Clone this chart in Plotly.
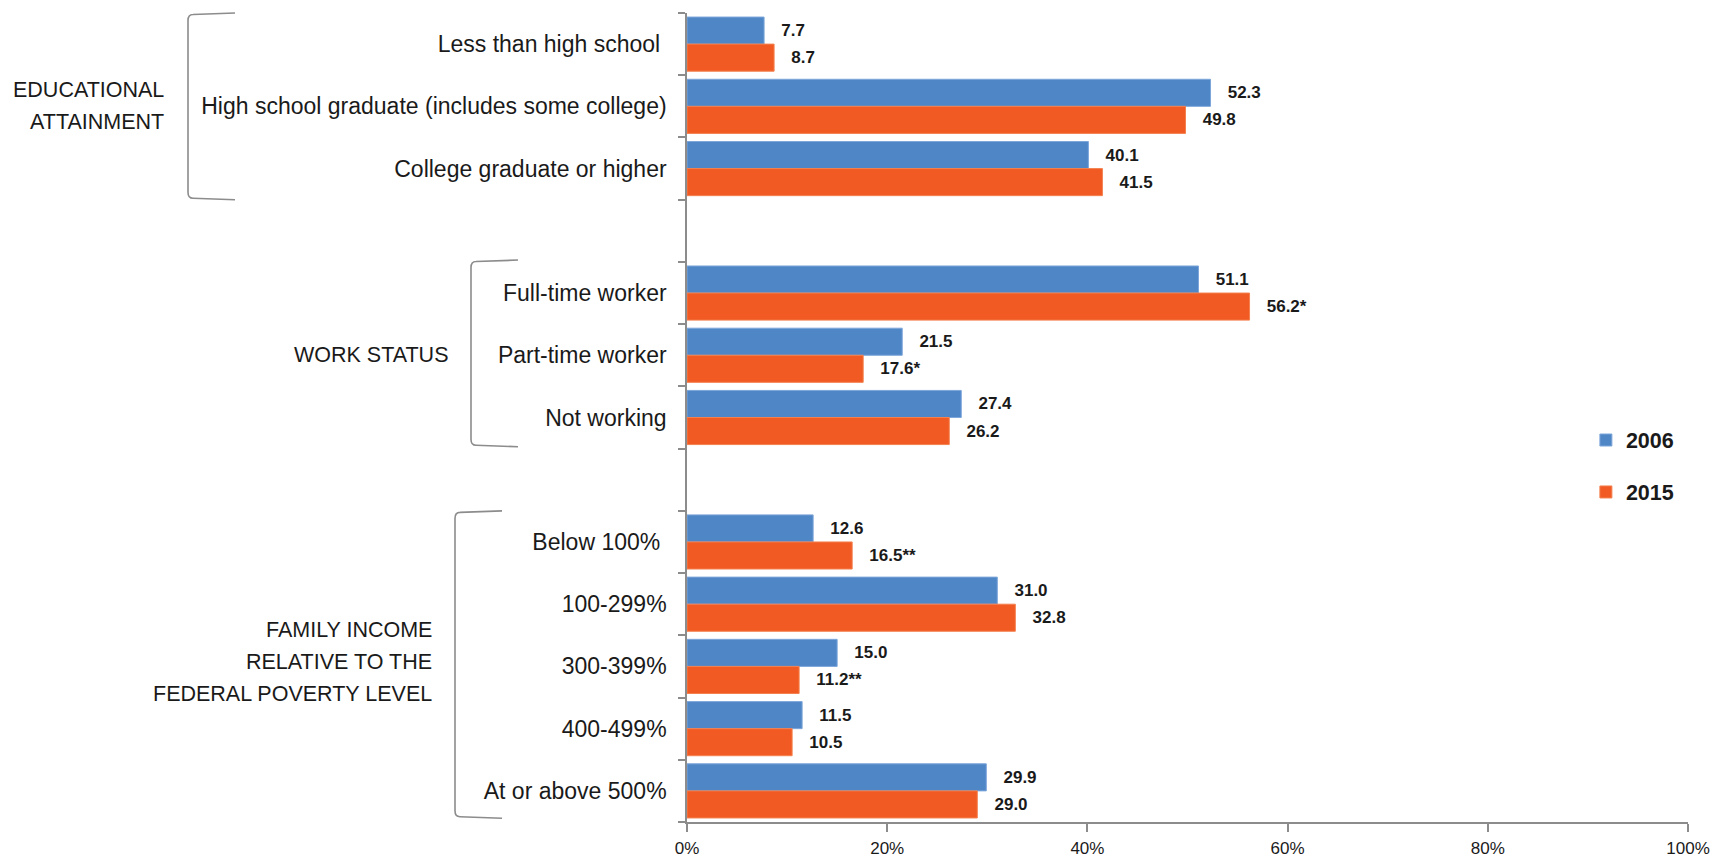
import plotly.graph_objects as go

# ---------------- data ----------------
edu_labels = ["Less than high school", "High school graduate (includes some college)", "College graduate or higher"]
edu_2006 = [7.7, 52.3, 40.1]
edu_2015 = [8.7, 49.8, 41.5]
edu_txt_2006 = ["7.7", "52.3", "40.1"]
edu_txt_2015 = ["8.7", "49.8", "41.5"]

work_labels = ["Full-time worker", "Part-time worker", "Not working"]
work_2006 = [51.1, 21.5, 27.4]
work_2015 = [56.2, 17.6, 26.2]
work_txt_2006 = ["51.1", "21.5", "27.4"]
work_txt_2015 = ["56.2*", "17.6*", "26.2"]

inc_labels = ["Below 100%", "100-299%", "300-399%", "400-499%", "At or above 500%"]
inc_2006 = [12.6, 31.0, 15.0, 11.5, 29.9]
inc_2015 = [16.5, 32.8, 11.2, 10.5, 29.0]
inc_txt_2006 = ["12.6", "31.0", "15.0", "11.5", "29.9"]
inc_txt_2015 = ["16.5**", "32.8", "11.2**", "10.5", "29.0"]

group_titles = [["EDUCATIONAL", "ATTAINMENT"], ["WORK STATUS"],
                ["FAMILY INCOME", "RELATIVE TO THE", "FEDERAL POVERTY LEVEL"]]
series_names = ["2006", "2015"]
x_ticks = [0, 20, 40, 60, 80, 100]
x_ticktext = ["0%", "20%", "40%", "60%", "80%", "100%"]

# ---------------- assemble ----------------
GAP1, GAP2 = " ", "  "
categories = edu_labels + [GAP1] + work_labels + [GAP2] + inc_labels
v2006 = edu_2006 + [None] + work_2006 + [None] + inc_2006
v2015 = edu_2015 + [None] + work_2015 + [None] + inc_2015
t2006 = edu_txt_2006 + [""] + work_txt_2006 + [""] + inc_txt_2006
t2015 = edu_txt_2015 + [""] + work_txt_2015 + [""] + inc_txt_2015
ticktext = [c + ("\u00a0" if c in ("Less than high school", "Below 100%") else "") for c in categories]

BLUE, BLUE_EDGE = "#4F86C6", "#7DA6DA"
ORANGE, ORANGE_EDGE = "#F15A22", "#F4804F"
GREY = "#8C8C8C"
TXT = "#1a1a1a"
FONT = "Liberation Sans, Arial, sans-serif"

fig = go.Figure()
for name, vals, txt, col, edge in [(series_names[0], v2006, t2006, BLUE, BLUE_EDGE),
                                   (series_names[1], v2015, t2015, ORANGE, ORANGE_EDGE)]:
    fig.add_trace(go.Bar(
        y=categories, x=vals, orientation="h", name=name,
        marker=dict(color=col, line=dict(width=1, color=edge)),
        text=txt, texttemplate="\u00a0\u00a0\u00a0%{text}", textposition="outside",
        textfont=dict(family=FONT, size=17, color=TXT, weight="bold"),
        constraintext="none", cliponaxis=False, legendgroup=name,
        hoverinfo="x+y",
    ))

N = len(categories)
PW, PH = 1001.0, 809.0


def cy(c):
    # category coordinate -> paper y (axis reversed)
    return 1 - (c + 0.5) / N


def bracket(x_v, x_a, c_top, c_bot):
    yt, yb = cy(c_top), cy(c_bot)
    rx, ry, sl = 5 / PW, 6 / PH, 1.5 / PH
    return (f"M{x_a},{yt} L{x_v + rx},{yt - sl} Q{x_v},{yt - sl} {x_v},{yt - sl - ry} "
            f"L{x_v},{yb + sl + ry} Q{x_v},{yb + sl} {x_v + rx},{yb + sl} L{x_a},{yb}")


def px(p):
    return (p - 687) / PW


shapes = []
for xv, xa, ct, cb in [(188, 235, -0.5, 2.5), (471, 518, 3.47, 6.47), (455, 502, 7.5, 12.44)]:
    shapes.append(dict(type="path", xref="paper", yref="paper",
                       path=bracket(px(xv), px(xa), ct, cb),
                       line=dict(color=GREY, width=1.6)))

annotations = []
LINE = 32
for lines, xr, ycat, shift in [(group_titles[0], 166, categories[1], 0),
                               (group_titles[1], 450, categories[5], 0),
                               (group_titles[2], 434, categories[10], 4)]:
    n = len(lines)
    for i, ln in enumerate(lines):
        annotations.append(dict(text=ln, xref="paper", yref="y", x=px(xr), y=ycat,
                                yshift=-(i - (n - 1) / 2) * LINE + shift,
                                xanchor="right", yanchor="middle", align="right",
                                showarrow=False,
                                font=dict(family=FONT, size=21.5, color=TXT)))

fig.update_layout(
    width=1711, height=860,
    margin=dict(l=687, r=23, t=13, b=38, autoexpand=False),
    paper_bgcolor="white", plot_bgcolor="white",
    barmode="group", bargap=0.13, bargroupgap=0,
    shapes=shapes, annotations=annotations,
    showlegend=True,
    legend=dict(x=0.898, y=0.44, xanchor="left", yanchor="middle",
                font=dict(family=FONT, size=21.5, color=TXT, weight="bold"),
                traceorder="grouped", tracegroupgap=21, bgcolor="rgba(0,0,0,0)"),
    yaxis=dict(categoryorder="array", categoryarray=categories, autorange="reversed",
               tickmode="array", tickvals=categories, ticktext=ticktext,
               showline=True, linecolor=GREY, linewidth=1.6,
               ticks="outside", tickson="boundaries", ticklen=7, tickcolor=GREY, tickwidth=1.6,
               ticklabelstandoff=14, showgrid=False, zeroline=False, automargin=False,
               tickfont=dict(family=FONT, size=23, color=TXT)),
    xaxis=dict(range=[0, 100], tickmode="array", tickvals=x_ticks, ticktext=x_ticktext,
               showline=True, linecolor=GREY, linewidth=1.6,
               ticks="outside", ticklen=8, tickcolor=GREY, tickwidth=1.6,
               ticklabelstandoff=2, showgrid=False, zeroline=False, automargin=False,
               tickfont=dict(family=FONT, size=17, color=TXT)),
    font=dict(family=FONT),
)

fig.write_html("out.html", config={"displayModeBar": False},
               post_script="document.body.style.margin='0';document.body.style.overflow='hidden';")
